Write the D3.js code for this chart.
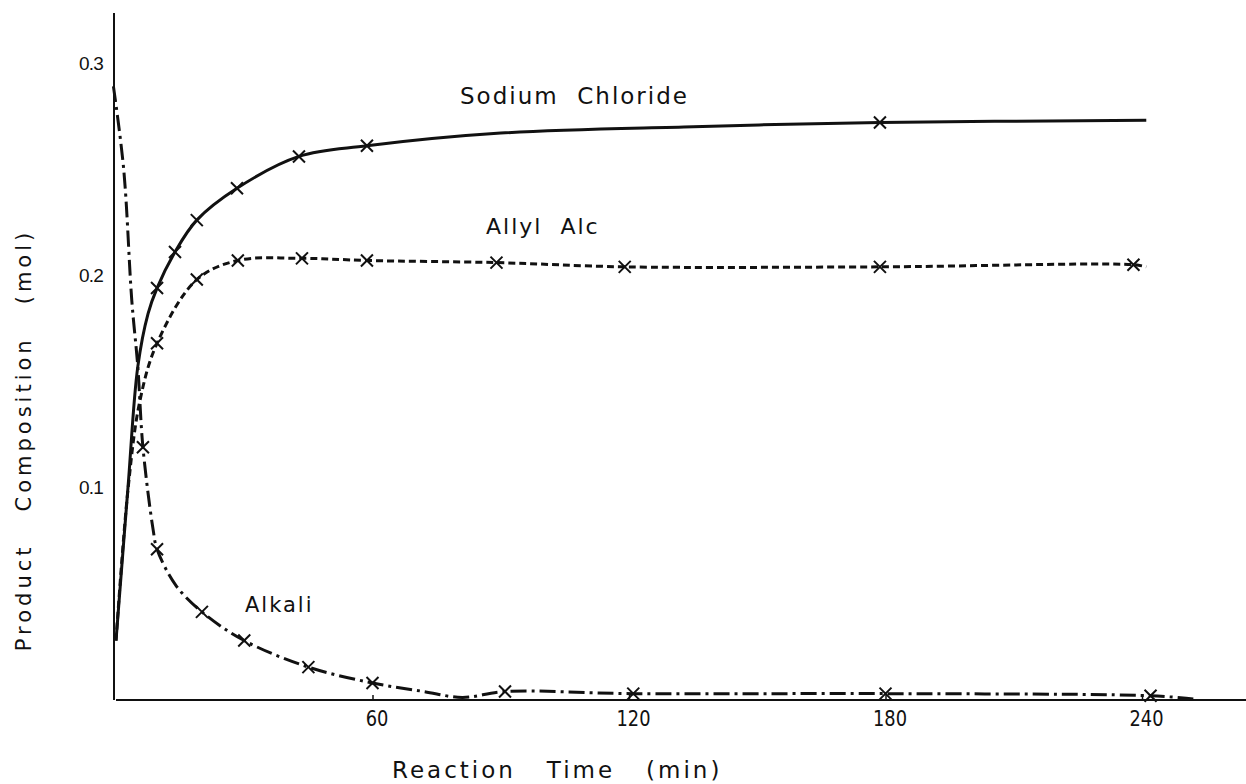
<!DOCTYPE html>
<html>
<head>
<meta charset="utf-8">
<script src="https://cdn.jsdelivr.net/npm/d3@7"></script>
<style>
  body { margin: 0; background: #fff; }
  text { fill: #111; }
</style>
</head>
<body>
<svg id="chart"></svg>
<script>
// Reaction time ticks and y ticks
const xTicks = [60, 120, 180, 240];
const yTicks = [0.1, 0.2, 0.3];

// Sodium Chloride: measured points (X markers) and the drawn curve
const naclMarkers = [[9.6, 0.194], [13.8, 0.211], [18.9, 0.226], [28.3, 0.241], [42.8, 0.256], [58.7, 0.261], [178.7, 0.272]];
const naclCurve = [[0, 0.028], [2.8, 0.10], [5.1, 0.157], [7.5, 0.182], [9.6, 0.194], [13.8, 0.211], [18.9, 0.226], [28.3, 0.241], [42.8, 0.256], [58.7, 0.261], [90, 0.267], [135, 0.270], [178.7, 0.272], [241, 0.273]];

// Allyl Alc
const allylMarkers = [[9.6, 0.168], [18.9, 0.198], [28.5, 0.207], [43.5, 0.208], [58.7, 0.207], [89, 0.206], [119, 0.204], [178.7, 0.204], [238, 0.205]];
const allylCurve = [[0, 0.028], [2.8, 0.099], [5.6, 0.141], [9.6, 0.168], [18.9, 0.198], [28.5, 0.207], [43.5, 0.208], [58.7, 0.207], [89, 0.206], [119, 0.204], [178.7, 0.204], [238, 0.205], [241, 0.204]];

// Alkali
const alkaliMarkers = [[6.3, 0.119], [9.6, 0.071], [20.1, 0.0415], [30, 0.028], [45, 0.0155], [60, 0.008], [91, 0.004], [121, 0.003], [180, 0.003], [242, 0.002]];
const alkaliCurve = [[-0.6, 0.289], [1.8, 0.25], [3.7, 0.188], [5.1, 0.157], [6.3, 0.119], [8.7, 0.08], [9.6, 0.071], [14, 0.054], [20.1, 0.0415], [30, 0.028], [45, 0.0155], [60, 0.008], [72, 0.004], [81, 0.0012], [91, 0.004], [121, 0.003], [180, 0.003], [242, 0.002], [252, 0.0005]];

const width = 1246, height = 784;

const svg = d3.select("#chart")
    .attr("width", width)
    .attr("height", height);

const x = d3.scaleLinear().domain([0, 240]).range([116, 1142]);
const y = d3.scaleLinear().domain([0, 0.3]).range([700, 63]);

// axis lines
svg.append("line")
    .attr("x1", x(0)).attr("x2", width)
    .attr("y1", y(0)).attr("y2", y(0))
    .attr("stroke", "#111").attr("stroke-width", 2);

svg.append("line")
    .attr("x1", x(0) - 2).attr("x2", x(0) - 2)
    .attr("y1", y(0)).attr("y2", 13)
    .attr("stroke", "#111").attr("stroke-width", 2);

// x axis ticks and labels
const xAxis = svg.append("g")
    .attr("transform", "translate(0," + y(0) + ")")
    .call(d3.axisBottom(x).tickValues(xTicks).tickSize(-5).tickPadding(11).tickFormat(d3.format("d")));
xAxis.select(".domain").remove();
xAxis.selectAll("line").attr("stroke", "#111").attr("stroke-width", 1.5);
xAxis.selectAll("text")
    .attr("font-family", "'DejaVu Sans', sans-serif")
    .attr("font-size", 21)
    .attr("transform", "translate(4,0) scale(0.85,1)")
    .attr("fill", "#111");

// y axis labels
const yAxis = svg.append("g")
    .attr("transform", "translate(" + (x(0) - 13) + ",0)")
    .call(d3.axisLeft(y).tickValues(yTicks).tickSize(0).tickPadding(0).tickFormat(d3.format(".1f")));
yAxis.select(".domain").remove();
yAxis.selectAll("text")
    .attr("font-family", "'Liberation Sans', Arial, sans-serif")
    .attr("font-size", 19)
    .attr("letter-spacing", "-0.8px")
    .attr("fill", "#222");

// curves
const line = d3.line()
    .x(d => x(d[0]))
    .y(d => y(d[1]))
    .curve(d3.curveCatmullRom.alpha(0.5));

svg.append("path")
    .datum(naclCurve)
    .attr("d", line)
    .attr("fill", "none")
    .attr("stroke", "#111")
    .attr("stroke-width", 3);

svg.append("path")
    .datum(allylCurve)
    .attr("d", line)
    .attr("fill", "none")
    .attr("stroke", "#111")
    .attr("stroke-width", 3)
    .attr("stroke-dasharray", "7,4");

svg.append("path")
    .datum(alkaliCurve)
    .attr("d", line)
    .attr("fill", "none")
    .attr("stroke", "#111")
    .attr("stroke-width", 3)
    .attr("stroke-dasharray", "16,5,3,5");

// X markers
function drawMarkers(data) {
    const s = 6;
    svg.append("g")
        .selectAll("path")
        .data(data)
        .enter().append("path")
        .attr("d", d => {
            const cx = x(d[0]), cy = y(d[1]);
            return "M" + (cx - s) + "," + (cy - s) + "L" + (cx + s) + "," + (cy + s) +
                   "M" + (cx + s) + "," + (cy - s) + "L" + (cx - s) + "," + (cy + s);
        })
        .attr("stroke", "#111")
        .attr("stroke-width", 2)
        .attr("fill", "none");
}
drawMarkers(naclMarkers);
drawMarkers(allylMarkers);
drawMarkers(alkaliMarkers);

// curve labels
const labelFont = "'DejaVu Sans', sans-serif";
svg.append("text")
    .attr("x", 460).attr("y", 104)
    .attr("font-family", labelFont)
    .attr("font-size", 23)
    .attr("letter-spacing", "2px")
    .style("white-space", "pre")
    .text("Sodium  Chloride");

svg.append("text")
    .attr("x", 486).attr("y", 234)
    .attr("font-family", labelFont)
    .attr("font-size", 22)
    .attr("letter-spacing", "2px")
    .style("white-space", "pre")
    .text("Allyl  Alc");

svg.append("text")
    .attr("x", 245).attr("y", 612)
    .attr("font-family", labelFont)
    .attr("font-size", 21)
    .attr("letter-spacing", "2px")
    .text("Alkali");

// axis titles
svg.append("text")
    .attr("x", 392).attr("y", 778)
    .attr("font-family", labelFont)
    .attr("font-size", 23)
    .attr("letter-spacing", "3px")
    .style("white-space", "pre")
    .text("Reaction   Time   (min)");

svg.append("text")
    .attr("transform", "translate(31,440) rotate(-90)")
    .attr("text-anchor", "middle")
    .attr("font-family", labelFont)
    .attr("font-size", 21)
    .attr("letter-spacing", "4px")
    .style("white-space", "pre")
    .text("Product   Composition   (mol)");
</script>
</body>
</html>
